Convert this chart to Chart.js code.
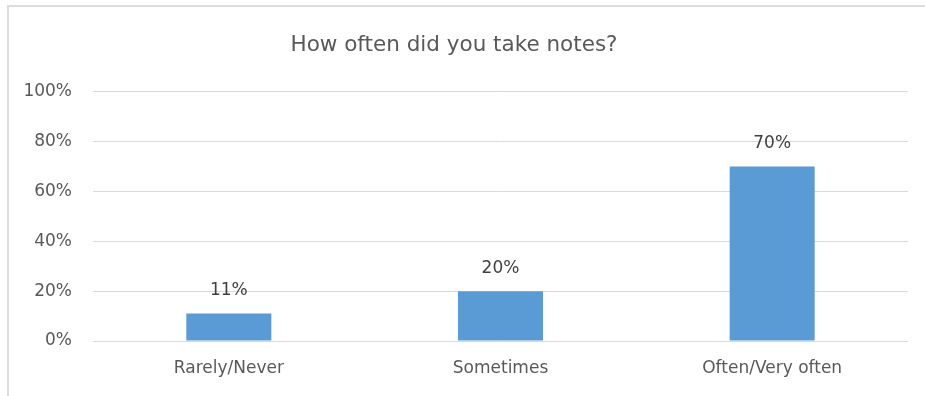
<!DOCTYPE html>
<html>
<head>
<meta charset="utf-8">
<script src="https://cdn.jsdelivr.net/npm/chart.js@4/dist/chart.umd.min.js"></script>
<style>
  html, body { margin: 0; padding: 0; background: #fff; }
  #wrap { width: 925px; height: 396px; position: relative; }
</style>
</head>
<body>
<div id="wrap"><canvas id="myChart" width="925" height="396"></canvas></div>
<script>
const categories = ["Rarely/Never", "Sometimes", "Often/Very often"];
const shares = [11, 20, 70];
const yTicks = [0, 20, 40, 60, 80, 100];

const fontFamily = "'DejaVu Sans', 'Open Sans', sans-serif";
const textColor = "#595959";

// frame around the chart, open at right and bottom
const framePlugin = {
  id: "frame",
  beforeDraw(chart) {
    const ctx = chart.ctx;
    ctx.save();
    ctx.strokeStyle = "#dcdcdc";
    ctx.lineWidth = 2;
    ctx.beginPath();
    ctx.moveTo(8, chart.height + 4);
    ctx.lineTo(8, 6);
    ctx.lineTo(chart.width + 4, 6);
    ctx.stroke();
    ctx.restore();
  }
};

// value labels above each bar
const valueLabels = {
  id: "valueLabels",
  afterDatasetsDraw(chart) {
    const ctx = chart.ctx;
    const meta = chart.getDatasetMeta(0);
    ctx.save();
    ctx.font = "17px " + fontFamily;
    ctx.fillStyle = "#404040";
    ctx.textAlign = "center";
    ctx.textBaseline = "middle";
    meta.data.forEach((bar, i) => {
      ctx.fillText(shares[i] + "%", bar.x, bar.y - 23);
    });
    ctx.restore();
  }
};

new Chart(document.getElementById("myChart").getContext("2d"), {
  type: "bar",
  data: {
    labels: categories,
    datasets: [{
      data: shares,
      backgroundColor: "#5b9bd5",
      borderWidth: 0,
      categoryPercentage: 1,
      barPercentage: 0.313
    }]
  },
  options: {
    responsive: false,
    animation: false,
    layout: { padding: { left: 0, right: 17, top: 0, bottom: 18 } },
    plugins: {
      legend: { display: false },
      tooltip: { enabled: false },
      title: {
        display: true,
        text: "How often did you take notes?",
        color: textColor,
        font: { family: fontFamily, size: 21.5, weight: "normal", lineHeight: 1.2 },
        padding: { top: 33, bottom: 33 }
      }
    },
    scales: {
      x: {
        afterFit(scale) { scale.height = 37; },
        grid: { display: false, drawTicks: false },
        border: { display: false },
        ticks: {
          color: textColor,
          font: { family: fontFamily, size: 17 },
          padding: 17
        }
      },
      y: {
        min: 0,
        max: 100,
        afterBuildTicks(scale) {
          scale.ticks = yTicks.map(v => ({ value: v }));
        },
        afterFit(scale) { scale.width = 93; },
        grid: { color: "#d9d9d9", lineWidth: 1, drawTicks: false },
        border: { display: false },
        ticks: {
          color: textColor,
          font: { family: fontFamily, size: 17 },
          padding: 21,
          callback: v => v + "%"
        }
      }
    }
  },
  plugins: [framePlugin, valueLabels]
});
</script>
</body>
</html>
